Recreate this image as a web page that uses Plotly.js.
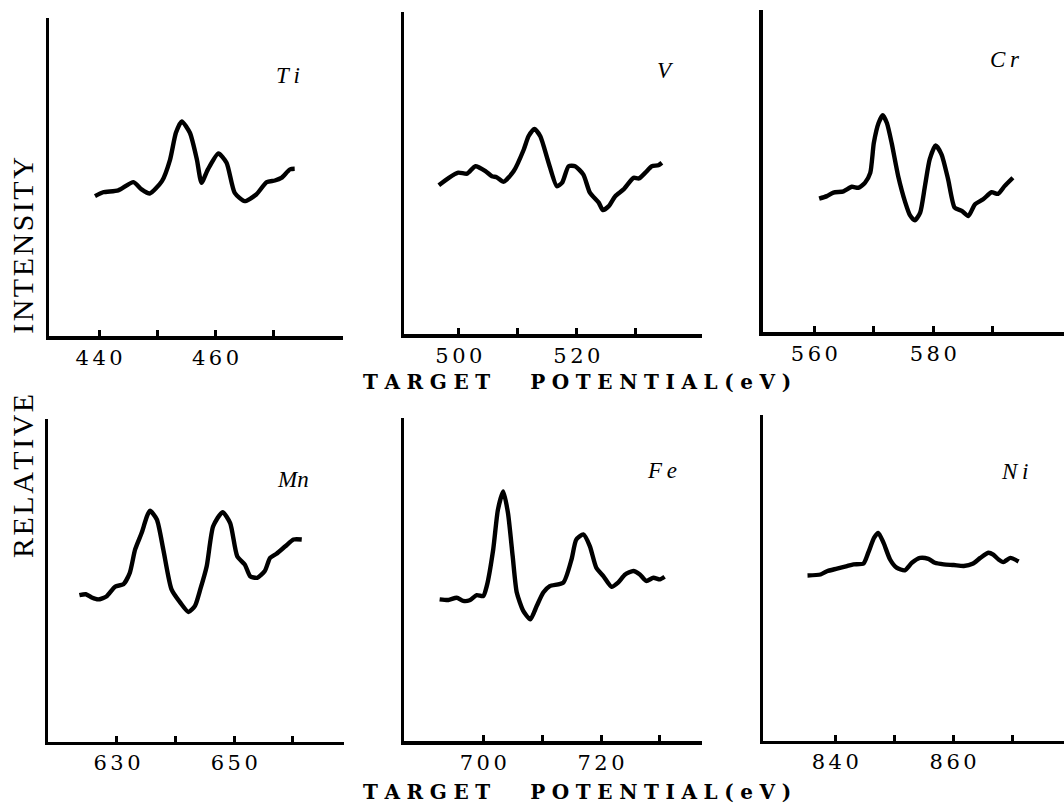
<!DOCTYPE html>
<html>
<head>
<meta charset="utf-8">
<script src="https://cdn.plot.ly/plotly-3.0.1.min.js"></script>
<style>
  html, body { margin: 0; padding: 0; background: #ffffff; }
  #chart { width: 1064px; height: 809px; }
</style>
</head>
<body>
<div id="chart"></div>
<script>
// ---------- DATA ----------
const elements = ["Ti", "V", "Cr", "Mn", "Fe", "Ni"];

const tiX = [439.3, 440.7, 443.3, 445.9, 447.3, 448.7, 450.8, 452.2, 453.2, 454.2, 455.6, 456.8, 457.6, 458.7, 460.5, 461.9, 463.3, 465.0, 467.0, 468.8, 470.2, 471.3, 472.8, 473.6];
const tiY = [44.0, 45.2, 45.8, 48.4, 46.1, 44.8, 48.7, 55.5, 63.9, 67.5, 63.9, 55.5, 48.2, 52.4, 57.4, 54.5, 45.0, 42.4, 44.5, 48.4, 48.9, 49.7, 52.4, 52.6];

const vX = [496.6, 498.3, 499.9, 501.4, 502.8, 504.5, 505.6, 506.4, 507.6, 509.3, 511.0, 511.8, 512.8, 513.8, 515.2, 516.6, 517.5, 518.6, 519.7, 521.1, 522.2, 523.7, 524.4, 525.4, 526.5, 527.9, 529.6, 530.5, 531.6, 532.7, 533.8, 534.4];
const vY = [46.2, 48.5, 50.1, 49.8, 52.1, 50.6, 49.0, 48.7, 47.3, 50.6, 57.3, 61.4, 63.7, 61.4, 53.2, 45.9, 47.0, 52.1, 52.1, 49.5, 43.9, 40.8, 38.5, 39.7, 42.8, 44.9, 48.5, 48.3, 50.1, 52.1, 52.4, 53.2];

const crX = [560.8, 562.1, 563.2, 564.9, 566.3, 567.4, 568.5, 569.4, 570.0, 570.8, 571.5, 572.2, 573.0, 574.1, 575.3, 576.1, 576.9, 577.8, 578.6, 579.4, 580.4, 581.4, 582.5, 583.6, 584.8, 585.9, 587.0, 588.4, 589.8, 590.9, 592.0, 593.4];
const crY = [41.4, 42.2, 43.3, 43.7, 45.1, 44.8, 46.3, 49.4, 58.7, 64.9, 67.3, 64.9, 58.7, 48.4, 40.2, 36.2, 34.7, 37.1, 45.3, 53.6, 57.9, 55.1, 47.4, 38.6, 37.6, 36.0, 39.6, 41.2, 43.4, 42.9, 45.3, 47.9];

const mnX = [623.6, 624.7, 625.7, 626.8, 628.2, 629.7, 631.1, 632.2, 633.1, 634.2, 635.6, 636.8, 637.9, 639.3, 640.8, 642.2, 643.3, 644.2, 645.3, 646.4, 648.0, 649.3, 650.5, 651.8, 652.7, 653.9, 655.2, 656.1, 657.2, 658.7, 660.1, 661.5];
const mnY = [45.4, 45.7, 44.7, 44.1, 45.0, 48.1, 48.8, 52.4, 59.6, 64.7, 71.6, 68.9, 59.6, 47.2, 43.1, 40.2, 42.1, 47.2, 54.4, 66.8, 71.2, 67.8, 57.5, 54.9, 51.3, 50.8, 52.9, 57.0, 58.3, 60.6, 62.7, 62.7];

const feX = [692.6, 694.1, 695.5, 696.6, 697.7, 698.9, 700.0, 700.6, 701.7, 702.5, 703.4, 704.2, 705.0, 705.7, 706.8, 708.0, 709.1, 710.2, 711.3, 713.6, 715.0, 715.8, 717.0, 718.1, 719.2, 720.4, 721.8, 722.9, 724.1, 725.5, 726.6, 727.7, 728.9, 730.0, 730.8];
const feY = [43.9, 43.7, 44.4, 43.4, 43.6, 45.2, 44.9, 48.0, 59.4, 71.7, 77.3, 70.7, 57.3, 46.0, 40.3, 37.7, 41.9, 46.0, 48.0, 49.1, 56.3, 62.4, 64.0, 60.4, 53.7, 51.1, 47.8, 49.1, 51.6, 52.7, 51.6, 49.6, 50.6, 50.1, 50.9];

const niX = [835.3, 837.5, 838.6, 840.3, 842.0, 843.1, 844.8, 845.6, 846.6, 847.3, 848.2, 849.3, 850.4, 851.8, 853.0, 854.4, 855.8, 856.9, 858.4, 860.1, 861.8, 863.4, 864.6, 866.0, 866.8, 867.7, 868.5, 869.7, 871.1];
const niY = [50.7, 51.0, 52.0, 52.8, 53.6, 54.1, 54.4, 57.7, 62.3, 63.8, 60.7, 55.6, 53.1, 52.3, 54.6, 56.1, 55.8, 54.6, 54.1, 53.9, 53.6, 54.4, 56.1, 57.7, 57.1, 55.6, 54.8, 56.1, 55.0];

const tickValsTi = [440, 450, 460, 470];
const tickValsV  = [500, 510, 520, 530];
const tickValsCr = [560, 570, 580, 590];
const tickValsMn = [630, 640, 650, 660];
const tickValsFe = [700, 710, 720, 730];
const tickValsNi = [840, 850, 860, 870];
const labelledTicks = [[440, 460], [500, 520], [560, 580], [630, 650], [700, 720], [840, 860]];

const xTitleText = "TARGET  POTENTIAL(eV)";
const yTitleText = "RELATIVE INTENSITY";

// ---------- LAYOUT ----------
const W = 1064, H = 809;
const seriesX = [tiX, vX, crX, mnX, feX, niX];
const seriesY = [tiY, vY, crY, mnY, feY, niY];
const tickVals = [tickValsTi, tickValsV, tickValsCr, tickValsMn, tickValsFe, tickValsNi];

// pixel boxes of each panel: [left, right, bottom, top]
const boxes = [
  [49, 343, 336, 18],
  [404, 702, 334, 12],
  [762.7, 1064, 332, 10],
  [48.3, 344, 741.5, 419.3],
  [404.3, 701.7, 741, 418.3],
  [763.3, 1064, 740.5, 415]
];
const xRanges = [[431.4, 481.9], [490.7, 541.2], [551.3, 602], [618.3, 668.7], [686.6, 737.1], [827.8, 878.8]];
const labelPos = [[288, 76], [665, 70], [1005, 60], [293, 480], [662, 470], [1014, 471]];
const labelText = ["T\u2009i", "V", "C\u2009r", "Mn", "F\u2009e", "N\u2009i"];

const SERIF = "'Liberation Serif', 'Times New Roman', serif";
const WIDESERIF = "'DejaVu Serif', serif";
function spaced(s, sep) { return s.split("").join(sep); }

const traces = [];
const layout = {
  width: W, height: H,
  margin: {l: 0, r: 0, t: 0, b: 0},
  paper_bgcolor: "#ffffff",
  plot_bgcolor: "rgba(0,0,0,0)",
  showlegend: false,
  hovermode: false,
  annotations: []
};

for (let i = 0; i < 6; i++) {
  const n = i === 0 ? "" : String(i + 1);
  traces.push({
    x: seriesX[i], y: seriesY[i],
    xaxis: "x" + n, yaxis: "y" + n,
    type: "scatter", mode: "lines",
    line: {color: "#000000", width: 4.4, shape: "spline", smoothing: 0.6},
    name: elements[i]
  });
  const b = boxes[i];
  layout["xaxis" + n] = {
    domain: [b[0] / W, Math.min(1, b[1] / W)],
    range: xRanges[i],
    anchor: "y" + n,
    showline: true, linecolor: "#000", linewidth: 3.5,
    showgrid: false, zeroline: false,
    ticks: "inside", ticklen: 6, tickwidth: 3, tickcolor: "#000",
    tickmode: "array",
    tickvals: tickVals[i],
    ticktext: tickVals[i].map(v => labelledTicks[i].includes(v) ? spaced(String(v), "\u2006") : ""),
    tickfont: {family: WIDESERIF, size: 21, color: "#000"},
    fixedrange: true
  };
  layout["yaxis" + n] = {
    domain: [1 - b[2] / H, 1 - b[3] / H],
    range: [0, 100],
    anchor: "x" + n,
    showline: true, linecolor: "#000", linewidth: 3.5,
    showgrid: false, zeroline: false,
    ticks: "", showticklabels: false,
    fixedrange: true
  };
  layout.annotations.push({
    xref: "paper", yref: "paper",
    x: labelPos[i][0] / W, y: 1 - labelPos[i][1] / H,
    xanchor: "center", yanchor: "middle",
    text: labelText[i], showarrow: false,
    font: {family: SERIF, size: 23, style: "italic", color: "#000"}
  });
}

// shared axis titles (as text annotations)
const xTitle = xTitleText.split("  ").map(w => spaced(w, "\u2004")).join("\u2003\u2003");
[382, 792].forEach(py => {
  layout.annotations.push({
    xref: "paper", yref: "paper",
    x: 577 / W, y: 1 - py / H,
    xanchor: "center", yanchor: "middle",
    text: xTitle, showarrow: false,
    font: {family: WIDESERIF, size: 20, weight: "bold", color: "#000"}
  });
});
layout.annotations.push({
  xref: "paper", yref: "paper",
  x: 22 / W, y: 1 - 358 / H,
  xanchor: "center", yanchor: "middle",
  text: yTitleText.split(" ").map(w => spaced(w, "\u200A")).join("\u2003\u2003"),
  textangle: -90, showarrow: false,
  font: {family: SERIF, size: 30, color: "#000"}
});

Plotly.newPlot("chart", traces, layout, {displayModeBar: false, staticPlot: true});
</script>
</body>
</html>
